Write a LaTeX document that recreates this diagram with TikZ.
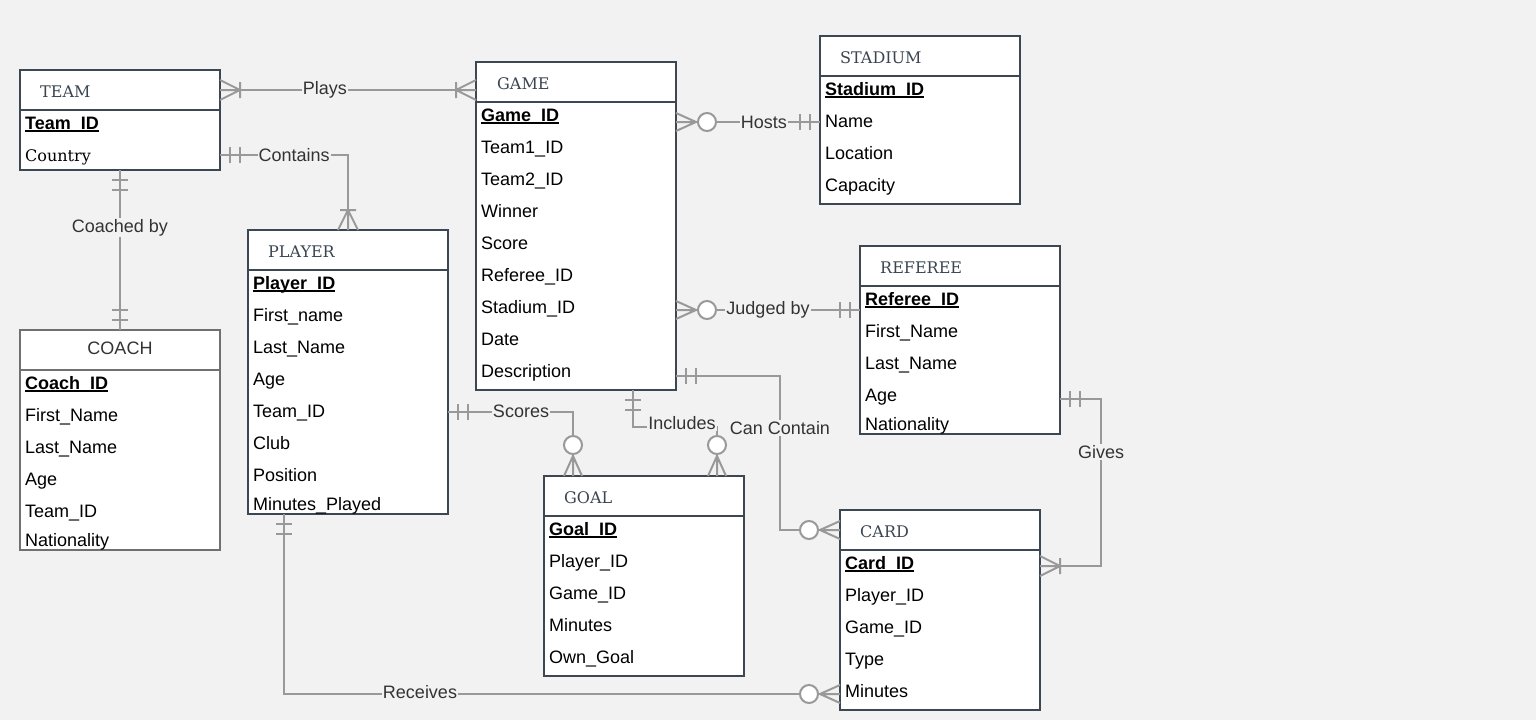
\documentclass[tikz,border=0pt]{standalone}
\usepackage{fontspec}
\setmainfont{Liberation Sans}
\newfontfamily\hdfont{DejaVu Serif}
\usetikzlibrary{calc}
\definecolor{bgc}{HTML}{F2F2F2}
\definecolor{boxc}{HTML}{3D4753}
\definecolor{linec}{HTML}{999999}
\definecolor{hdrc}{HTML}{3B4552}
\definecolor{lblc}{HTML}{333333}
\definecolor{coachc}{HTML}{707070}
\newcommand\keyf[1]{\setbox0\hbox{\bfseries #1}\rlap{\rule[-2.8pt]{\wd0}{1.4pt}}\box0}
\tikzset{
  ebox/.style={draw=boxc, line width=2pt, fill=white, minimum width=200pt, inner sep=0pt, outer sep=0pt, anchor=north west},
  eline/.style={draw=boxc, line width=2pt},
  hdr/.style={font=\hdfont\fontsize{16}{19}\selectfont, text=hdrc, anchor=west, inner sep=0pt},
  field/.style={font=\fontsize{18}{21}\selectfont, text=black, anchor=base west, inner sep=0pt},
  conn/.style={draw=linec, line width=2pt},
  lbl/.style={font=\fontsize{18}{21}\selectfont, text=lblc, fill=bgc, inner sep=1pt},
  onemany/.pic={\draw[conn] (0,-10) -- (20,0) -- (0,10) (0,0) -- (20,0) (20,-8) -- (20,8);},
  zeromany/.pic={\draw[conn] (0,-9) -- (20,0) -- (0,9) (0,0) -- (20,0); \draw[conn, fill=white] (31,0) circle (9pt);},
  onlyone/.pic={\draw[conn] (10,-8) -- (10,8) (20,-8) -- (20,8);}
}
\begin{document}
\begin{tikzpicture}[x=1pt,y=-1pt]
\fill[bgc] (0,0) rectangle (1536,720);
\useasboundingbox (0,0) rectangle (1536,720);

% ---------------- TEAM ----------------
\node[ebox, minimum height=100pt] (team) at (20,70) {};
\draw[eline] ($(team.north west)+(0,40)$) -- ($(team.north east)+(0,40)$);
\node[hdr] (team-h) at ($(team.north west)+(20,22)$) {TEAM};
\node[field] (team-0) at ($(team.north west)+(5,59)$) {\keyf{Team\_ID}};
\node[field, font=\hdfont\fontsize{16}{19}\selectfont] (team-1) at ($(team.north west)+(5,91)$) {Country};

% ---------------- GAME ----------------
\node[ebox, minimum height=328pt] (game) at (476,62) {};
\draw[eline] ($(game.north west)+(0,40)$) -- ($(game.north east)+(0,40)$);
\node[hdr] (game-h) at ($(game.north west)+(21,22)$) {GAME};
\foreach \t [count=\i from 0] in {\keyf{Game\_ID},Team1\_ID,Team2\_ID,Winner,Score,Referee\_ID,Stadium\_ID,Date,Description}
  \node[field] (game-\i) at ($(game.north west)+(5,59+32*\i)$) {\t};

% ---------------- STADIUM ----------------
\node[ebox, minimum height=168pt] (stadium) at (820,36) {};
\draw[eline] ($(stadium.north west)+(0,40)$) -- ($(stadium.north east)+(0,40)$);
\node[hdr] (stadium-h) at ($(stadium.north west)+(20,22)$) {STADIUM};
\foreach \t [count=\i from 0] in {\keyf{Stadium\_ID},Name,Location,Capacity}
  \node[field] (stadium-\i) at ($(stadium.north west)+(5,59+32*\i)$) {\t};

% ---------------- PLAYER ----------------
\node[ebox, minimum height=284pt] (player) at (248,230) {};
\draw[eline] ($(player.north west)+(0,40)$) -- ($(player.north east)+(0,40)$);
\node[hdr] (player-h) at ($(player.north west)+(20,22)$) {PLAYER};
\foreach \t [count=\i from 0] in {\keyf{Player\_ID},First\_name,Last\_Name,Age,Team\_ID,Club,Position}
  \node[field] (player-\i) at ($(player.north west)+(5,59+32*\i)$) {\t};
\node[field] (player-7) at ($(player.north west)+(5,280)$) {Minutes\_Played};

% ---------------- COACH ----------------
\node[ebox, draw=coachc, minimum height=220pt] (coach) at (20,330) {};
\draw[eline, draw=coachc] ($(coach.north west)+(0,40)$) -- ($(coach.north east)+(0,40)$);
\node[font=\fontsize{18}{21}\selectfont, text=lblc, inner sep=0pt] (coach-h) at ($(coach.north)+(0,18)$) {COACH};
\foreach \t [count=\i from 0] in {\keyf{Coach\_ID},First\_Name,Last\_Name,Age,Team\_ID}
  \node[field] (coach-\i) at ($(coach.north west)+(5,59+32*\i)$) {\t};
\node[field] (coach-5) at ($(coach.north west)+(5,216)$) {Nationality};

% ---------------- REFEREE ----------------
\node[ebox, minimum height=188pt] (referee) at (860,246) {};
\draw[eline] ($(referee.north west)+(0,40)$) -- ($(referee.north east)+(0,40)$);
\node[hdr] (referee-h) at ($(referee.north west)+(20,22)$) {REFEREE};
\foreach \t [count=\i from 0] in {\keyf{Referee\_ID},First\_Name,Last\_Name,Age}
  \node[field] (referee-\i) at ($(referee.north west)+(5,59+32*\i)$) {\t};
\node[field] (referee-4) at ($(referee.north west)+(5,184)$) {Nationality};

% ---------------- GOAL ----------------
\node[ebox, minimum height=200pt] (goal) at (544,476) {};
\draw[eline] ($(goal.north west)+(0,40)$) -- ($(goal.north east)+(0,40)$);
\node[hdr] (goal-h) at ($(goal.north west)+(20,22)$) {GOAL};
\foreach \t [count=\i from 0] in {\keyf{Goal\_ID},Player\_ID,Game\_ID,Minutes,Own\_Goal}
  \node[field] (goal-\i) at ($(goal.north west)+(5,59+32*\i)$) {\t};

% ---------------- CARD ----------------
\node[ebox, minimum height=200pt] (card) at (840,510) {};
\draw[eline] ($(card.north west)+(0,40)$) -- ($(card.north east)+(0,40)$);
\node[hdr] (card-h) at ($(card.north west)+(20,22)$) {CARD};
\foreach \t [count=\i from 0] in {\keyf{Card\_ID},Player\_ID,Game\_ID,Type,Minutes}
  \node[field] (card-\i) at ($(card.north west)+(5,59+32*\i)$) {\t};

% ---------------- connectors ----------------
% Plays
\draw[conn] ($(team.north east)+(0,20)$) coordinate (plA) -- node[lbl,pos=0.41]{Plays} ($(game.north west)+(0,28)$) coordinate (plB);
\pic at (plA) {onemany};
\pic[rotate=180] at (plB) {onemany};

% Contains
\draw[conn] ($(team.north east)+(0,85)$) coordinate (coA) -| node[lbl,pos=0.29]{Contains} (player.north);
\pic at (coA) {onlyone};
\pic[rotate=90] at (player.north) {onemany};

% Coached by
\draw[conn] (team.south) -- node[lbl,pos=0.36]{Coached by} (coach.north);
\pic[rotate=-90] at (team.south) {onlyone};
\pic[rotate=90] at (coach.north) {onlyone};

% Hosts
\draw[conn] ($(game.north east)+(0,60)$) coordinate (hoA) -- node[lbl,pos=0.61]{Hosts} ($(stadium.north west)+(0,86)$) coordinate (hoB);
\pic at (hoA) {zeromany};
\pic[rotate=180] at (hoB) {onlyone};

% Judged by
\draw[conn] ($(game.north east)+(0,248)$) coordinate (juA) -- node[lbl,pos=0.5]{Judged by} ($(referee.north west)+(0,64)$) coordinate (juB);
\pic at (juA) {zeromany};
\pic[rotate=180] at (juB) {onlyone};

% Can Contain
\draw[conn] ($(game.north east)+(0,314)$) coordinate (ccA) -| ($(card.north west)+(-60,20)$) -- ($(card.north west)+(0,20)$) coordinate (ccB);
\node[lbl] (cc-l) at ($(card.north west)+(-60,-82)$) {Can Contain};
\pic at (ccA) {onlyone};
\pic[rotate=180] at (ccB) {zeromany};

% Gives
\draw[conn] ($(referee.north east)+(0,153)$) coordinate (giA) -| ($(card.north east)+(61,56)$) -- ($(card.north east)+(0,56)$) coordinate (giB);
\node[lbl] (gi-l) at ($(card.north east)+(61,-58)$) {Gives};
\pic at (giA) {onlyone};
\pic at (giB) {onemany};

% Scores
\draw[conn] ($(player.north east)+(0,182)$) coordinate (scA) -| ($(goal.north west)+(29,0)$) coordinate (scB);
\node[lbl] (sc-l) at ($(player.north east)+(73,181)$) {Scores};
\pic at (scA) {onlyone};
\pic[rotate=90] at (scB) {zeromany};

% Includes
\draw[conn] ($(game.south west)+(157,0)$) coordinate (inA) |- ($(goal.north west)+(173,-49)$) -- ($(goal.north west)+(173,0)$) coordinate (inB);
\node[lbl] (in-l) at ($(goal.north west)+(138,-53)$) {Includes};
\pic[rotate=-90] at (inA) {onlyone};
\pic[rotate=90] at (inB) {zeromany};

% Receives
\draw[conn] ($(player.south west)+(36,0)$) coordinate (reA) |- ($(card.north west)+(0,184)$) coordinate (reB);
\node[lbl] (re-l) at ($(player.south west)+(172,178)$) {Receives};
\pic[rotate=-90] at (reA) {onlyone};
\pic[rotate=180] at (reB) {zeromany};
\end{tikzpicture}
\end{document}
